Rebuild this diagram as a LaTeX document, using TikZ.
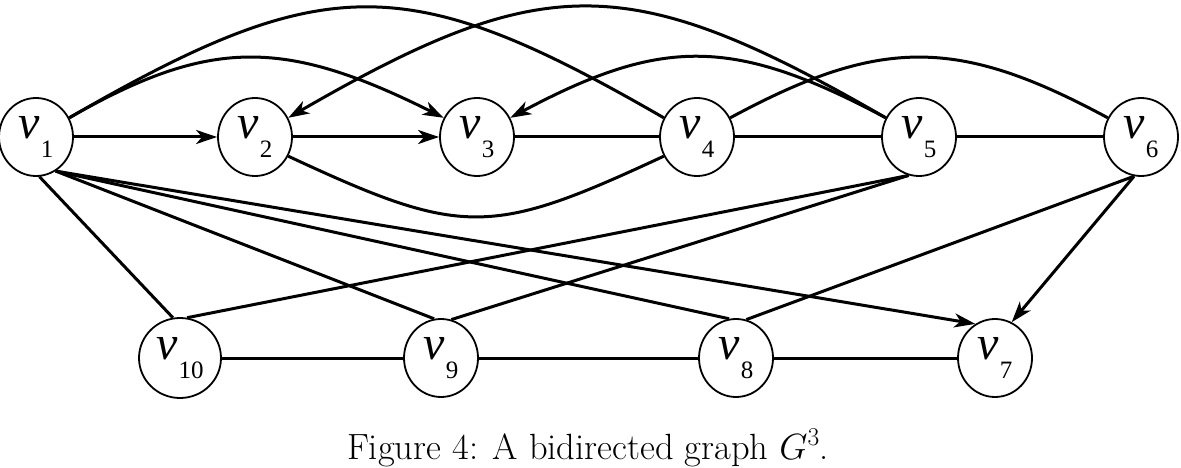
\RequirePackage{fix-cm}
\documentclass[tikz,border=0pt]{standalone}
\usepackage{fontspec}
\newfontfamily\tms{Liberation Serif}
\usetikzlibrary{shapes.geometric,arrows.meta}
\newcommand\vlab[1]{{\tms\fontsize{48}{48}\selectfont\itshape v}\kern1pt\raisebox{-19pt}{\tms\fontsize{25}{25}\selectfont #1}}
\begin{document}
\begin{tikzpicture}[x=1pt,y=-1pt,
  vtx/.style={draw, ellipse, line width=1.8pt, minimum width=74pt, minimum height=78pt, inner sep=0pt, fill=white},
  edge/.style={line width=3pt},
  arr/.style={edge, -{Stealth[length=21pt,width=14pt,inset=6pt]}}]
\useasboundingbox (0,0) rectangle (1181,468);
% top row
\node[vtx] (v1) at (36,137) {\vlab{1}};
\node[vtx] (v2) at (255,137) {\vlab{2}};
\node[vtx] (v3) at (477,137) {\vlab{3}};
\node[vtx] (v4) at (697,137) {\vlab{4}};
\node[vtx] (v5) at (919,137) {\vlab{5}};
\node[vtx] (v6) at (1141,137) {\vlab{6}};
% bottom row
\node[vtx, minimum width=82pt, minimum height=80pt] (v10) at (180,358) {\vlab{10}};
\node[vtx] (v9) at (441,358) {\vlab{9}};
\node[vtx] (v8) at (736,358) {\vlab{8}};
\node[vtx] (v7) at (995,358) {\vlab{7}};
% caption
\node[anchor=base, inner sep=0pt, font=\fontsize{36.5}{40}\selectfont] (cap) at (588,459) {Figure 4: A bidirected graph $G^3$.};
% straight edges
\draw[arr] (v1) -- (v2);
\draw[arr] (v2) -- (v3);
\draw[edge] (v3) -- (v4);
\draw[edge] (v4) -- (v5);
\draw[edge] (v5) -- (v6);
\draw[edge] (v10) -- (v9);
\draw[edge] (v9) -- (v8);
\draw[edge] (v8) -- (v7);
% arcs above
\draw[arr] (v1.30) .. controls +(140,-80) and +(-160,-80) .. (v3.150);
\draw[edge] (v1.30) .. controls +(256,-148) and +(-256,-148) .. (v4.150);
\draw[arr] (v5.150) .. controls +(-256,-148) and +(256,-148) .. (v2.30);
\draw[arr] (v5.150) .. controls +(-152,-81) and +(152,-81) .. (v3.30);
\draw[edge] (v4.30) .. controls +(150,-81) and +(-150,-81) .. (v6.150);
% arc below
\draw[edge] (v2.-30) .. controls +(174,81) and +(-174,81) .. (v4.210);
% fan from v1
\draw[edge] (v1.-85) -- (v10.100);
\draw[edge] (v1.-60) -- (v9.100);
\draw[edge] (v1.-60) -- (v8.100);
\draw[arr] (v1.-60) -- (v7.120);
% fan from v5
\draw[edge] (v5.-105) -- (v10.80);
\draw[edge] (v5.-105) -- (v9.75);
% fan from v6
\draw[edge] (v6.-100) -- (v8.75);
\draw[arr] (v6.-100) -- (v7.65);
\end{tikzpicture}
\end{document}
